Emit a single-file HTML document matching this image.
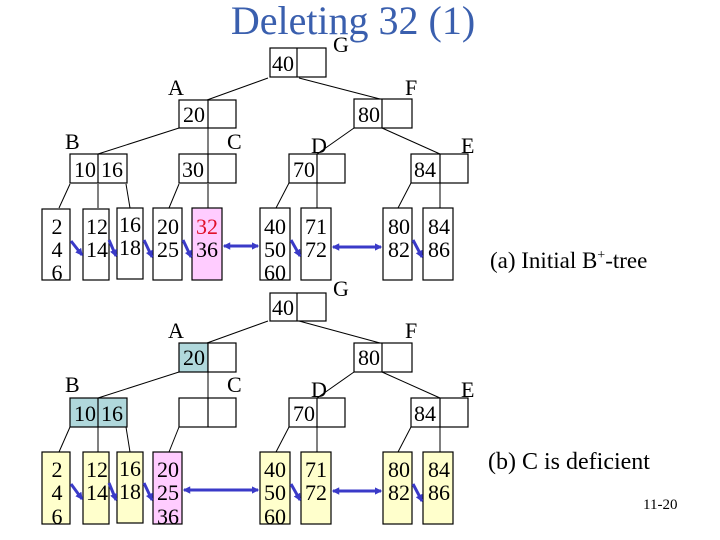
<!DOCTYPE html>
<html><head><meta charset="utf-8"><style>
html,body{margin:0;padding:0;background:#fff;}
svg{display:block;font-family:"Liberation Serif",serif;}
</style></head><body>
<svg width="720" height="540" viewBox="0 0 720 540" xmlns="http://www.w3.org/2000/svg">
<defs>
<marker id="ah" viewBox="0 0 6 6" refX="5" refY="3" markerWidth="2.5" markerHeight="2.5" orient="auto"><path d="M0,0L6,3L0,6z" fill="#3a3ac8"/></marker>
<marker id="as" viewBox="0 0 6 6" refX="1" refY="3" markerWidth="2.5" markerHeight="2.5" orient="auto"><path d="M6,0L0,3L6,6z" fill="#3a3ac8"/></marker>
</defs>
<text x="353" y="34" font-size="40" fill="#3a5fae" text-anchor="middle">Deleting 32 (1)</text>

<!-- (a) -->
<g stroke="#000" stroke-width="1" fill="none">
<line x1="268" y1="78" x2="207" y2="100"/><line x1="299" y1="78" x2="380" y2="99"/>
<line x1="179" y1="128" x2="98" y2="154"/><line x1="208" y1="128" x2="208" y2="154"/>
<line x1="354" y1="128" x2="317" y2="154"/><line x1="382" y1="128" x2="440" y2="154"/>
<line x1="70" y1="184" x2="59" y2="208"/><line x1="98" y1="184" x2="98" y2="208"/><line x1="126" y1="184" x2="130" y2="208"/>
<line x1="179" y1="184" x2="169" y2="208"/><line x1="208" y1="184" x2="208" y2="208"/>
<line x1="289" y1="183" x2="276" y2="208"/><line x1="317" y1="183" x2="317" y2="208"/>
<line x1="411" y1="183" x2="398" y2="208"/><line x1="440" y1="183" x2="440" y2="208"/>
</g>
<g stroke="#000" stroke-width="1.2" fill="#fff">
<rect x="270" y="48" width="56" height="29"/><line x1="297" y1="48" x2="297" y2="77"/>
<rect x="179" y="100" width="57" height="28"/><line x1="208" y1="100" x2="208" y2="128"/>
<rect x="354" y="99" width="58" height="29"/><line x1="382" y1="99" x2="382" y2="128"/>
<rect x="70" y="154" width="57" height="29"/><line x1="98" y1="154" x2="98" y2="183"/>
<rect x="179" y="154" width="57" height="29"/><line x1="208" y1="154" x2="208" y2="183"/>
<rect x="289" y="154" width="56" height="29"/><line x1="317" y1="154" x2="317" y2="183"/>
<rect x="411" y="154" width="57" height="29"/><line x1="440" y1="154" x2="440" y2="183"/>
<rect x="42" y="209" width="28" height="71"/>
<rect x="83" y="209" width="26" height="71"/>
<rect x="117" y="208" width="26" height="71"/>
<rect x="153" y="208" width="29" height="72"/>
<rect x="192" y="208" width="30" height="72" fill="#ffccff"/>
<rect x="260" y="208" width="30" height="72"/>
<rect x="301" y="208" width="30" height="72"/>
<rect x="383" y="208" width="29" height="72"/>
<rect x="423" y="208" width="30" height="72"/>
</g>
<g font-size="22" fill="#000">
<text x="272" y="71">40</text>
<text x="183" y="122">20</text>
<text x="358" y="122">80</text>
<text x="74" y="177">10</text><text x="101" y="177">16</text>
<text x="182" y="177">30</text>
<text x="293" y="177">70</text>
<text x="414" y="177">84</text>
<g text-anchor="middle">
<text x="57" y="234">2</text><text x="57" y="257">4</text><text x="57" y="280">6</text>
<text x="97" y="234">12</text><text x="97" y="257">14</text>
<text x="130" y="232">16</text><text x="130" y="255">18</text>
<text x="168" y="234">20</text><text x="168" y="257">25</text>
<text x="207" y="234" fill="#e0102a">32</text><text x="207" y="257">36</text>
<text x="275" y="234">40</text><text x="275" y="257">50</text><text x="275" y="280">60</text>
<text x="316" y="234">71</text><text x="316" y="257">72</text>
<text x="399" y="234">80</text><text x="399" y="257">82</text>
<text x="439" y="234">84</text><text x="439" y="257">86</text>
</g>
<text x="333" y="52">G</text>
<text x="168" y="95">A</text>
<text x="405" y="95">F</text>
<text x="65" y="149">B</text>
<text x="227" y="149">C</text>
<text x="311" y="153">D</text>
<text x="461" y="153">E</text>
<text x="490" y="268" font-size="23">(a) Initial B<tspan font-size="14" dy="-9">+</tspan><tspan dy="9">-tree</tspan></text>
</g>
<g stroke="#3a3ac8" stroke-width="3" fill="none">
<line x1="71" y1="241" x2="82" y2="255" marker-end="url(#ah)"/>
<line x1="109" y1="240" x2="116" y2="256" marker-end="url(#ah)"/>
<line x1="144" y1="240" x2="152" y2="257" marker-end="url(#ah)"/>
<line x1="183" y1="240" x2="191" y2="257" marker-end="url(#ah)"/>
<line x1="224" y1="246" x2="258" y2="246" marker-end="url(#ah)" marker-start="url(#as)"/>
<line x1="291" y1="240" x2="300" y2="256" marker-end="url(#ah)"/>
<line x1="333" y1="247" x2="381" y2="247" marker-end="url(#ah)" marker-start="url(#as)"/>
<line x1="413" y1="240" x2="422" y2="257" marker-end="url(#ah)"/>
</g>

<!-- (b) -->
<g transform="translate(0,245)">
<g stroke="#000" stroke-width="1" fill="none">
<line x1="268" y1="76" x2="207" y2="98"/><line x1="299" y1="76" x2="380" y2="98"/>
<line x1="179" y1="127" x2="98" y2="153"/><line x1="208" y1="127" x2="208" y2="153"/>
<line x1="354" y1="127" x2="317" y2="153"/><line x1="382" y1="127" x2="440" y2="153"/>
<line x1="70" y1="182" x2="59" y2="207"/><line x1="98" y1="182" x2="98" y2="207"/><line x1="126" y1="182" x2="130" y2="207"/>
<line x1="179" y1="182" x2="169" y2="207"/>
<line x1="289" y1="182" x2="276" y2="207"/><line x1="317" y1="182" x2="317" y2="207"/>
<line x1="411" y1="182" x2="398" y2="207"/><line x1="440" y1="182" x2="440" y2="207"/>
</g>
<g stroke="#000" stroke-width="1.2" fill="#fff">
<rect x="270" y="48" width="56" height="28"/><line x1="297" y1="48" x2="297" y2="76"/>
<rect x="179" y="98" width="29" height="29" fill="#b0d8dc"/><rect x="208" y="98" width="28" height="29"/>
<rect x="354" y="98" width="58" height="29"/><line x1="382" y1="98" x2="382" y2="127"/>
<rect x="70" y="153" width="57" height="29" fill="#b0d8dc"/><line x1="98" y1="153" x2="98" y2="182"/>
<rect x="179" y="153" width="57" height="29"/><line x1="208" y1="153" x2="208" y2="182"/>
<rect x="289" y="153" width="56" height="29"/><line x1="317" y1="153" x2="317" y2="182"/>
<rect x="411" y="153" width="57" height="29"/><line x1="440" y1="153" x2="440" y2="182"/>
<g fill="#ffffcc">
<rect x="42" y="207" width="28" height="72"/>
<rect x="83" y="207" width="26" height="72"/>
<rect x="117" y="207" width="26" height="71"/>
<rect x="260" y="207" width="30" height="72"/>
<rect x="301" y="207" width="30" height="72"/>
<rect x="383" y="207" width="29" height="72"/>
<rect x="423" y="207" width="30" height="72"/>
</g>
<rect x="153" y="207" width="29" height="72" fill="#ffccff"/>
</g>
<g font-size="22" fill="#000">
<text x="272" y="70">40</text>
<text x="183" y="120">20</text>
<text x="358" y="120">80</text>
<text x="74" y="176">10</text><text x="101" y="176">16</text>
<text x="293" y="176">70</text>
<text x="414" y="176">84</text>
<g text-anchor="middle">
<text x="57" y="232">2</text><text x="57" y="255">4</text><text x="57" y="279">6</text>
<text x="97" y="232">12</text><text x="97" y="255">14</text>
<text x="130" y="231">16</text><text x="130" y="254">18</text>
<text x="168" y="232">20</text><text x="168" y="255">25</text><text x="168" y="279">36</text>
<text x="275" y="232">40</text><text x="275" y="255">50</text><text x="275" y="279">60</text>
<text x="316" y="232">71</text><text x="316" y="255">72</text>
<text x="399" y="232">80</text><text x="399" y="255">82</text>
<text x="439" y="232">84</text><text x="439" y="255">86</text>
</g>
<text x="333" y="51">G</text>
<text x="168" y="93">A</text>
<text x="405" y="93">F</text>
<text x="65" y="147">B</text>
<text x="227" y="147">C</text>
<text x="311" y="152">D</text>
<text x="461" y="152">E</text>
</g>
<g stroke="#3a3ac8" stroke-width="3" fill="none">
<line x1="71" y1="239" x2="82" y2="254" marker-end="url(#ah)"/>
<line x1="109" y1="238" x2="116" y2="255" marker-end="url(#ah)"/>
<line x1="144" y1="238" x2="152" y2="255" marker-end="url(#ah)"/>
<line x1="184" y1="245" x2="258" y2="245" marker-end="url(#ah)" marker-start="url(#as)"/>
<line x1="291" y1="239" x2="300" y2="255" marker-end="url(#ah)"/>
<line x1="333" y1="246" x2="381" y2="246" marker-end="url(#ah)" marker-start="url(#as)"/>
<line x1="413" y1="239" x2="422" y2="256" marker-end="url(#ah)"/>
</g>
</g>
<text x="488" y="469" font-size="24" fill="#000">(b) C is deficient</text>
<text x="643" y="509" font-size="15" fill="#000">11-20</text>
</svg>
</body></html>
